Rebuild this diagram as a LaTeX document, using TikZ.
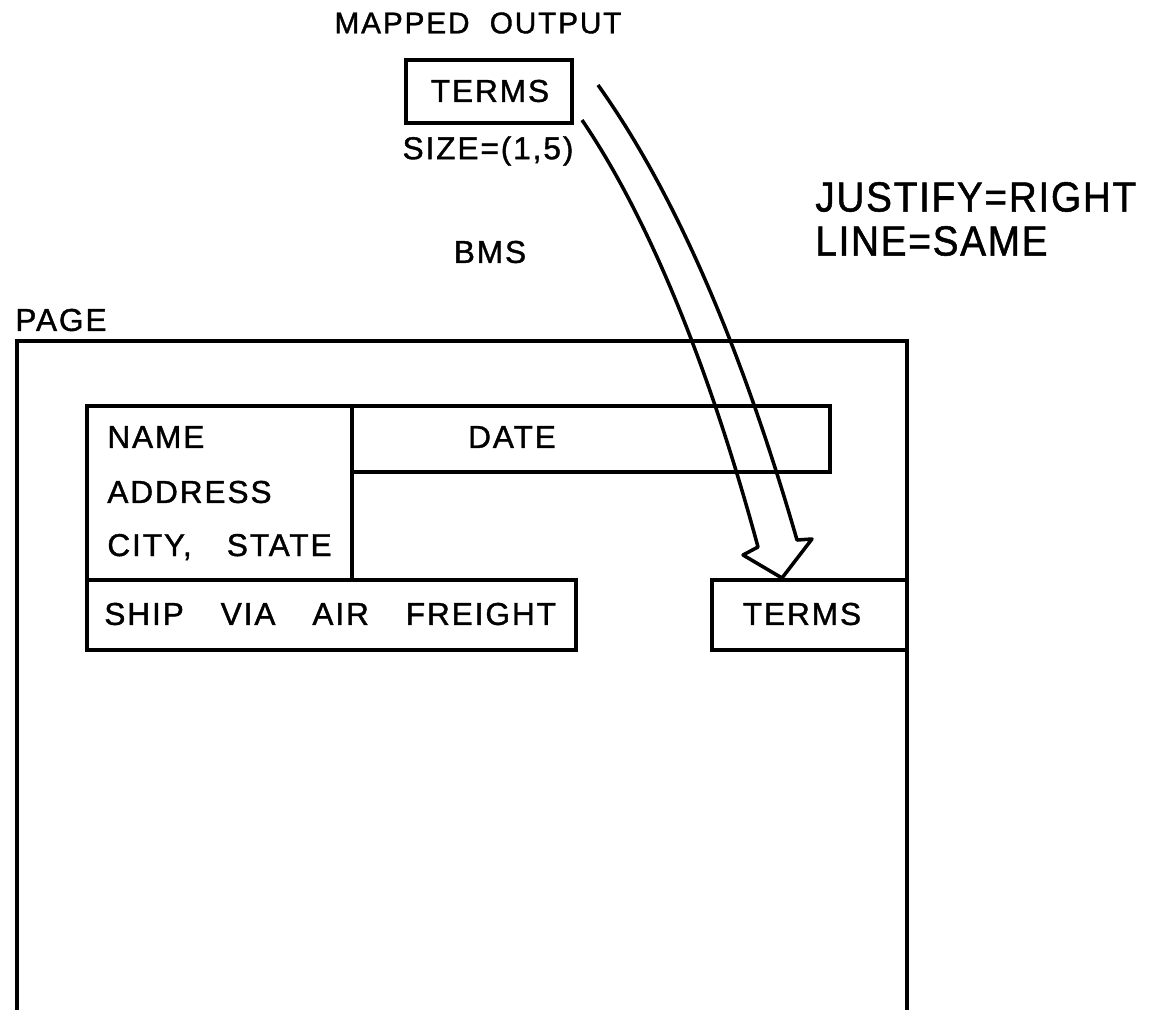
\documentclass[tikz,border=0pt]{standalone}
\usepackage{fontspec}
\setmainfont{Liberation Sans}
\newfontfamily\formfont[LetterSpace=6,FakeBold=1.2]{Liberation Sans}
\newfontfamily\bigfont[LetterSpace=4,FakeStretch=0.92,FakeBold=1.2]{Liberation Sans}
\usetikzlibrary{positioning}

\tikzset{
  box/.style={draw,line width=2pt,inner sep=0pt},
  lbl/.style={font=\formfont\fontsize{18}{20}\selectfont,inner sep=0pt},
  biglbl/.style={font=\bigfont\fontsize{24}{26}\selectfont,inner sep=0pt,anchor=west},
  arr/.style={line width=2pt,line join=round},
}

\begin{document}
\begin{tikzpicture}[x=0.02cm,y=-0.02cm]
  \useasboundingbox (0,0) rectangle (1155,1010);

  % map side
  \node[lbl,font=\formfont\fontsize{17}{19}\selectfont] (mapped) at (478,23){MAPPED\ \ OUTPUT};
  \node[box,minimum width=166*0.02cm,minimum height=63*0.02cm] (tterms) at (489,91.5){};
  \node[lbl] (ttermstxt) at (490,91){TERMS};
  \node[lbl] (size) at (488,151){SIZE=(1,5)};
  \node[biglbl] (just) at (815,197){JUSTIFY=RIGHT};
  \node[biglbl] (line) at (815,241){LINE=SAME};
  \node[lbl] (bms) at (490,252){BMS};

  % page
  \node[lbl,anchor=west] (page) at (15,320){PAGE};
  \coordinate (pbl) at (17,1010);
  \coordinate (pbr) at (907,1010);
  \coordinate (ptr) at (907,341);
  \draw[line width=2pt] (pbl) |- (ptr) -- (pbr);

  \node[box,minimum width=265*0.02cm,minimum height=174*0.02cm] (addr) at (219.5,493){};
  \node[box,minimum width=478*0.02cm,minimum height=66*0.02cm] (date) at (591,439){};
  \node[box,minimum width=489*0.02cm,minimum height=70*0.02cm] (ship) at (331.5,615){};
  \node[box,minimum width=195*0.02cm,minimum height=70*0.02cm] (bterms) at (809.5,615){};

  \node[lbl,anchor=west] (name) at (107,437){NAME};
  \node[lbl,anchor=west] (address) at (107,492){ADDRESS};
  \node[lbl,anchor=west] (city) at (107,547){CITY,\hspace{20pt}STATE};
  \node[lbl] (datetxt) at (512,437){DATE};
  \node[lbl,anchor=west] (shiptxt) at (104,614){SHIP\hspace{21pt}VIA\hspace{21pt}AIR\hspace{21pt}FREIGHT};
  \node[lbl] (btermstxt) at (802,614){TERMS};

  % hollow arrow from mapped field to page field
  \coordinate (o0) at (598,85);
  \coordinate (i0) at (582,120);
  \coordinate (tip) at (782,578);
  \draw[arr] (o0) .. controls (680,200) and (745,360) .. (797,540)
    -- (812,539) -- (tip) -- (743,555) -- (758,547)
    .. controls (710,370) and (650,220) .. (i0);
\end{tikzpicture}
\end{document}
